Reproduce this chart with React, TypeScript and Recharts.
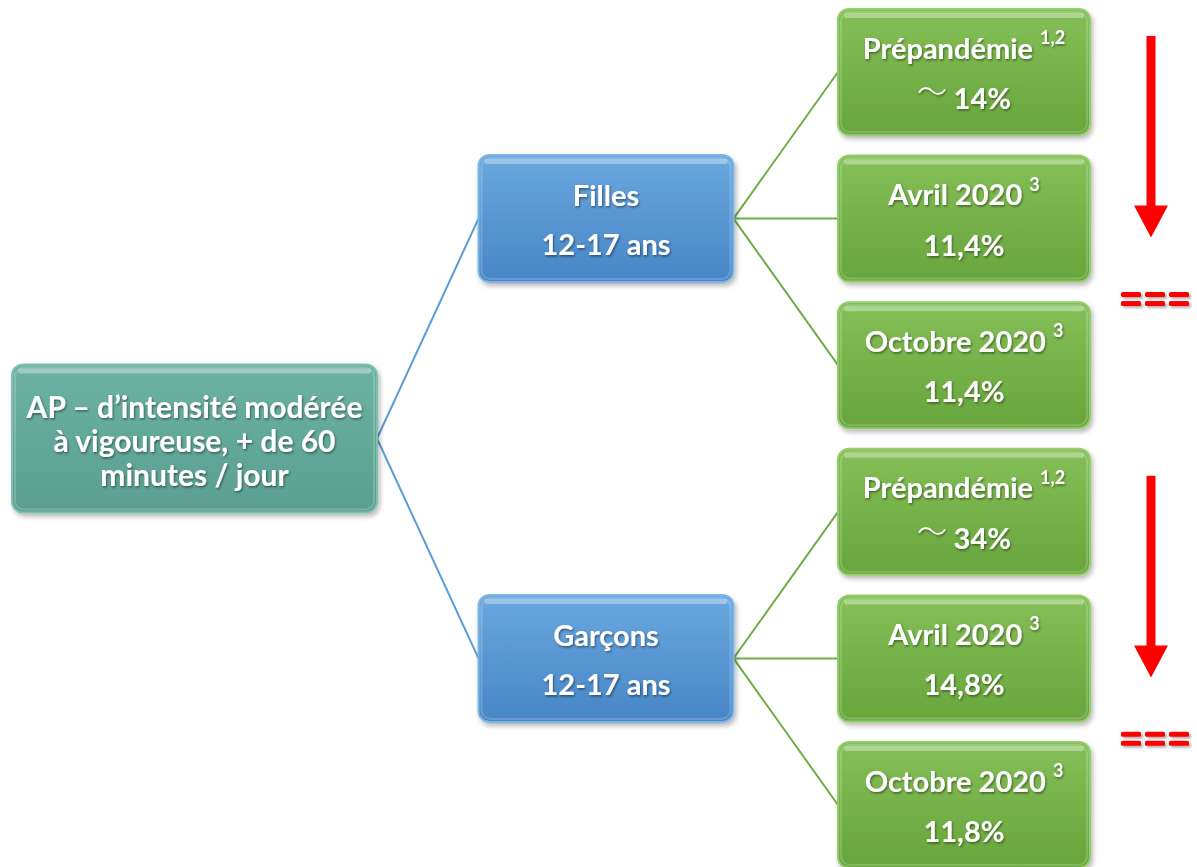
import React from 'react';
import { ScatterChart, Scatter, XAxis, YAxis, ReferenceLine } from 'recharts';

// tree content
const rootLines = ['AP – d’intensité modérée', 'à vigoureuse, + de 60', 'minutes / jour'];
const groups = ['Filles', 'Garçons'];
const ageBand = '12-17 ans';
const periods = ['Prépandémie', 'Avril 2020', 'Octobre 2020'];
const periodRefs = ['1,2', '3', '3'];
const approxFlags = [true, false, false];
const fillesPct = [14, 11.4, 11.4];
const garconsPct = [34, 14.8, 11.8];
const fillesTrend = ['down', 'equal'];
const garconsTrend = ['down', 'equal'];

const W = 1197;
const H = 867;
const MARGIN = { top: 72, right: 107, bottom: 62, left: 377 };
const BOX_W = [365, 255, 252];
const BOX_H = [148, 127, 126];
const PX_PER_LEVEL = (W - MARGIN.left - MARGIN.right) / 2;
const FONT = 'Lato, "Open Sans", sans-serif';

const PALETTE: Record<string, { top: string; bottom: string; stroke: string }> = {
  root: { top: '#6cb2a2', bottom: '#5a9f8f', stroke: '#7cc0b0' },
  group: { top: '#6aa8de', bottom: '#4785c7', stroke: '#7db6e6' },
  leaf: { top: '#84bf57', bottom: '#68a53c', stroke: '#95cc6a' },
};

const groupPct = [fillesPct, garconsPct];
const groupTrend = [fillesTrend, garconsTrend];

const fmtPct = (v: number) => String(v).replace('.', ',') + '%';

const rootNode = { level: 0, slot: (groups.length * periods.length - 1) / 2, kind: 'root' };
const groupNodes = groups.map((g, gi) => ({
  level: 1,
  slot: gi * periods.length + (periods.length - 1) / 2,
  kind: 'group',
  title: g,
  sub: ageBand,
}));
const leafNodes = groups.flatMap((g, gi) =>
  periods.map((p, pi) => ({
    level: 2,
    slot: gi * periods.length + pi,
    kind: 'leaf',
    title: p,
    sup: periodRefs[pi],
    approx: approxFlags[pi],
    value: groupPct[gi][pi],
  }))
);
const nodes = [rootNode, ...groupNodes, ...leafNodes];

const textShadow = 'url(#txtShadow)';

const NodeBox = (props: any) => {
  const { cx, cy, payload } = props;
  if (cx == null || cy == null) return null;
  const lv = payload.level;
  const w = BOX_W[lv];
  const h = BOX_H[lv];
  const x = cx - w;
  const y = cy - h / 2;
  const c = PALETTE[payload.kind];
  const gid = `grad-${lv}-${payload.slot}`;
  const tx = x + w / 2;
  const common = {
    fill: '#fff',
    fontFamily: FONT,
    fontWeight: 700,
    fontSize: 29,
    textAnchor: 'middle' as const,
    dominantBaseline: 'central' as const,
    filter: textShadow,
  };

  let content: React.ReactNode = null;
  if (payload.kind === 'root') {
    content = rootLines.map((l, i) => (
      <text key={i} x={tx} y={cy - 33 + i * 34} {...common} fontSize={30}>
        {l}
      </text>
    ));
  } else if (payload.kind === 'group') {
    content = (
      <>
        <text x={tx} y={cy - 24} {...common}>{payload.title}</text>
        <text x={tx} y={cy + 25} {...common}>{payload.sub}</text>
      </>
    );
  } else {
    content = (
      <>
        <text x={tx} y={cy - 25} {...common}>
          {payload.title + ' '}
          <tspan fontSize={18} dy={-10}>{payload.sup}</tspan>
        </text>
        <text x={tx} y={cy + 25} {...common}>
          {payload.approx && (
            <tspan fontFamily='"Noto Sans CJK JP", sans-serif' fontWeight={300} fontSize={30} dy={-8}>
              {'～  '}
            </tspan>
          )}
          <tspan dy={payload.approx ? 8 : 0}>{fmtPct(payload.value)}</tspan>
        </text>
      </>
    );
  }

  return (
    <g>
      <defs>
        <linearGradient id={gid} x1="0" y1="0" x2="0" y2="1">
          <stop offset="0%" stopColor={c.top} />
          <stop offset="100%" stopColor={c.bottom} />
        </linearGradient>
      </defs>
      <rect x={x} y={y} width={w} height={h} rx={11} fill={`url(#${gid})`} stroke={c.stroke} strokeWidth={2} filter="url(#boxShadow)" />
      <rect x={x + 6} y={y + 4} width={w - 12} height={5} rx={2.5} fill="#fff" opacity={0.35} />
      <rect x={x + 3} y={y + 3} width={w - 6} height={h - 6} rx={9} fill="none" stroke="#fff" strokeOpacity={0.18} strokeWidth={2} />
      {content}
    </g>
  );
};

const TrendMark = (kind: string) => (props: any) => {
  const { x1, y1, x2, y2 } = props;
  if (x1 == null) return <g />;
  if (kind === 'down') {
    const ax = x1 + 61;
    const top = y1 - 36;
    const tip = y2 + 19;
    const headLen = 32;
    return (
      <g>
        <rect x={ax - 4.5} y={top} width={9} height={tip - headLen - top + 1} fill="#ff0000" />
        <polygon points={`${ax - 17},${tip - headLen} ${ax + 17},${tip - headLen} ${ax},${tip}`} fill="#ff0000" />
      </g>
    );
  }
  const my = (y1 + y2) / 2 + 6;
  const sx = x1 + 31;
  const dashes = [0, 1, 2];
  return (
    <g filter="url(#eqShadow)">
      {dashes.map((d) =>
        [my - 6, my + 3].map((ry, k) => (
          <rect key={`${d}-${k}`} x={sx + d * 24} y={ry} width={20} height={5} rx={1.5} fill="#ff0000" />
        ))
      )}
    </g>
  );
};

const SvgDefs = () => (
  <defs>
    <filter id="boxShadow" x="-10%" y="-10%" width="120%" height="125%">
      <feDropShadow dx="2" dy="3" stdDeviation="2.5" floodColor="#000" floodOpacity="0.28" />
    </filter>
    <filter id="txtShadow" x="-10%" y="-30%" width="120%" height="160%">
      <feDropShadow dx="1" dy="1.5" stdDeviation="1" floodColor="#000" floodOpacity="0.45" />
    </filter>
    <filter id="eqShadow" x="-20%" y="-50%" width="140%" height="200%">
      <feDropShadow dx="2" dy="2" stdDeviation="1" floodColor="#000" floodOpacity="0.3" />
    </filter>
  </defs>
);

const App = () => {
  const leafLeft = 2 - BOX_W[2] / PX_PER_LEVEL;
  const groupLeft = 1 - BOX_W[1] / PX_PER_LEVEL;

  return (
    <div style={{ position: 'fixed', left: 0, top: 0, width: W, height: H, background: '#fff' }}>
      <ScatterChart width={W} height={H} margin={MARGIN}>
        <SvgDefs />
        <XAxis type="number" dataKey="level" domain={[0, 2]} hide />
        <YAxis type="number" dataKey="slot" domain={[0, groups.length * periods.length - 1]} reversed hide />
        {groupNodes.map((g, gi) => (
          <ReferenceLine
            key={`rg-${gi}`}
            segment={[{ x: 0, y: rootNode.slot }, { x: groupLeft, y: g.slot }]}
            stroke="#5b9bd5"
            strokeWidth={2}
            ifOverflow="visible"
          />
        ))}
        {leafNodes.map((l, li) => {
          const g = groupNodes[Math.floor(li / periods.length)];
          return (
            <ReferenceLine
              key={`gl-${li}`}
              segment={[{ x: 1, y: g.slot }, { x: leafLeft, y: l.slot }]}
              stroke="#70ad47"
              strokeWidth={2}
              ifOverflow="visible"
            />
          );
        })}
        {groupTrend.flatMap((tr, gi) =>
          tr.map((kind, ti) => (
            <ReferenceLine
              key={`tr-${gi}-${ti}`}
              segment={[
                { x: 2, y: gi * periods.length + ti },
                { x: 2, y: gi * periods.length + ti + 1 },
              ]}
              ifOverflow="visible"
              shape={TrendMark(kind)}
            />
          ))
        )}
        <Scatter data={nodes} shape={NodeBox} isAnimationActive={false} />
      </ScatterChart>
    </div>
  );
};

export default App;
